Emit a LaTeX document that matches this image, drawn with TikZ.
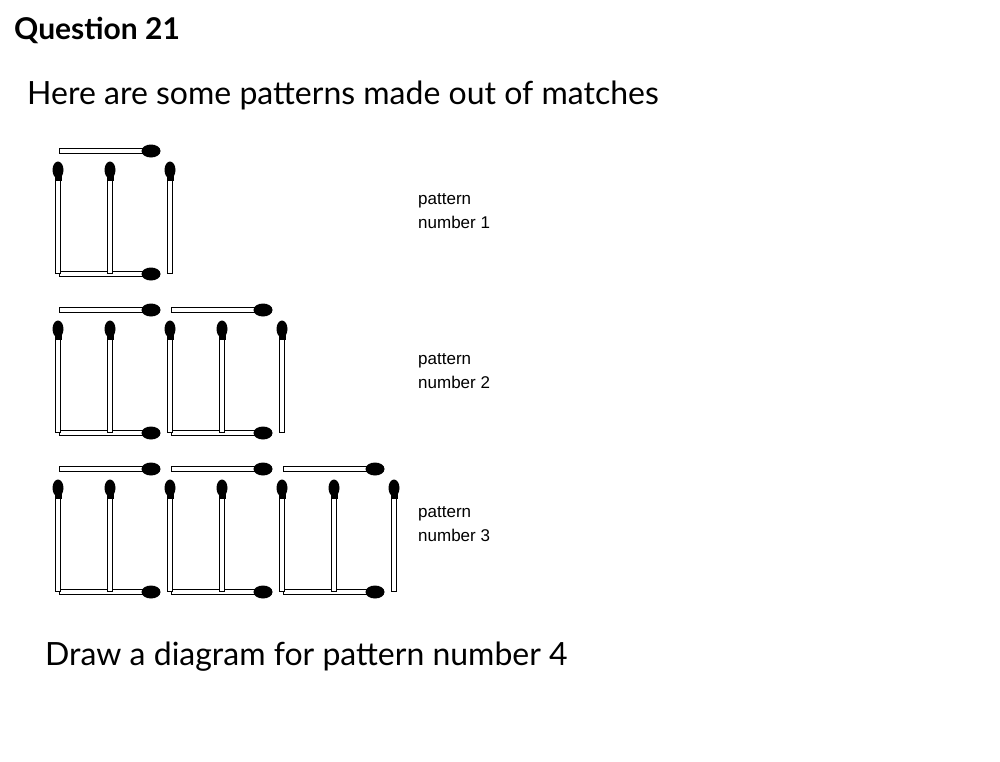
\documentclass[tikz,border=0pt]{standalone}
\usepackage{fontspec}
\setmainfont{Lato}
\newfontfamily\arial{Liberation Sans}
\begin{document}
\begin{tikzpicture}[x=1pt,y=-1pt,
  stick/.style={draw=black,fill=white,line width=0.9pt},
  lbl/.style={anchor=north west,inner sep=0pt,align=left,font=\arial\fontsize{17}{24}\selectfont}]
\useasboundingbox (0,0) rectangle (1000,761);
\newcommand\myhmatch[2]{%
  \draw[stick] ({#1},{#2-2.8}) rectangle ({#1+88},{#2+2.8});
  \fill ({#1+92},{#2}) ellipse (9.5 and 6.5);}
\newcommand\myvmatch[2]{%
  \draw[stick] ({#1-2.8},{#2+10}) rectangle ({#1+2.8},{#2+111});
  \fill ({#1},{#2+8}) ellipse (5.5 and 8.5);
  \fill ({#1-3.5},{#2+10}) rectangle ({#1+3.5},{#2+19});}
\newcommand\mypattern[2]{%
  \foreach \i [evaluate=\i as \hx using 59+112*(\i-1)] in {1,...,#1}{\myhmatch{\hx}{#2}\myhmatch{\hx}{#2+123}}
  \foreach \j [evaluate=\j as \va using 58+112*\j, evaluate=\j as \vb using 110+112*\j] in {0,...,#1}{\myvmatch{\va}{#2+11}\ifnum\j<#1 \myvmatch{\vb}{#2+11}\fi}}
\mypattern{1}{151}
\mypattern{2}{310}
\mypattern{3}{469}
\node[anchor=west,inner sep=0pt,font=\bfseries\fontsize{30}{36}\selectfont] (q) at (14,30) {Question 21};
\node[anchor=west,inner sep=0pt,font=\fontsize{32}{38}\selectfont] (h) at (27,95) {Here are some patterns made out of matches};
\node[lbl] (p1) at (418,193) {pattern\\number 1};
\node[lbl] (p2) at (418,353) {pattern\\number 2};
\node[lbl] (p3) at (418,506) {pattern\\number 3};
\node[anchor=west,inner sep=0pt,font=\fontsize{32}{38}\selectfont] (d) at (45,657) {Draw a diagram for pattern number 4};
\end{tikzpicture}
\end{document}
